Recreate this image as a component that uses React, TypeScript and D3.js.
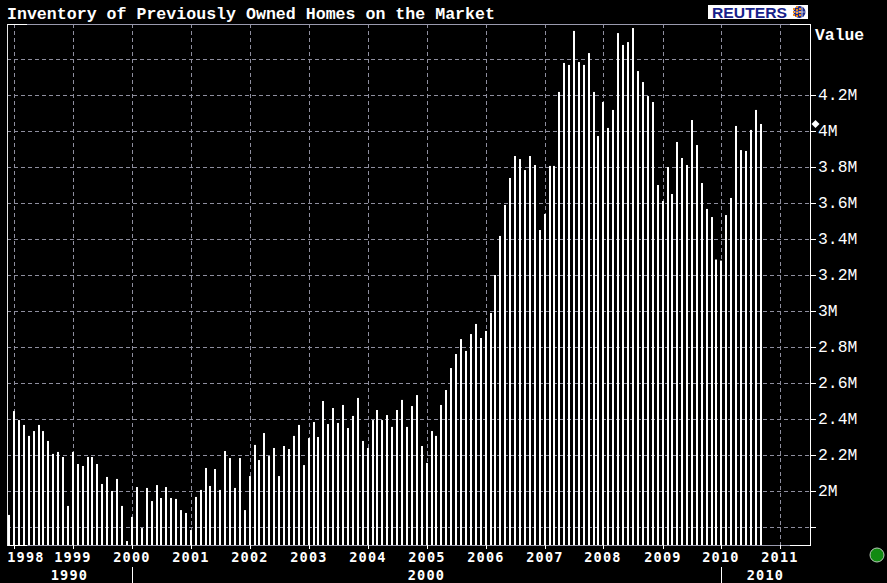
import React, { useEffect, useRef } from "react";
import * as d3 from "d3";

const title = "Inventory of Previously Owned Homes on the Market";

// Monthly inventory in millions of units, Dec 1997 .. Sep 2010
const dec1997 = [1.867];
const y1998 = [2.444, 2.394, 2.367, 2.306, 2.333, 2.367, 2.333, 2.278, 2.206, 2.217, 2.189, 1.917];
const y1999 = [2.217, 2.15, 2.139, 2.189, 2.189, 2.15, 2.039, 2.078, 2.0, 2.067, 1.917, 1.722];
const y2000 = [1.856, 2.022, 1.794, 2.017, 1.944, 2.033, 1.961, 2.022, 1.961, 1.956, 1.894, 1.878];
const y2001 = [1.783, 1.967, 2.006, 2.128, 2.028, 2.122, 2.006, 2.222, 2.183, 2.017, 2.183, 1.894];
const y2002 = [2.083, 2.256, 2.172, 2.322, 2.194, 2.239, 2.083, 2.25, 2.233, 2.306, 2.367, 2.144];
const y2003 = [2.294, 2.383, 2.3, 2.5, 2.372, 2.461, 2.378, 2.478, 2.35, 2.417, 2.517, 2.278];
const y2004 = [2.239, 2.394, 2.45, 2.394, 2.422, 2.356, 2.45, 2.506, 2.356, 2.472, 2.533, 2.25];
const y2005 = [2.156, 2.333, 2.306, 2.478, 2.561, 2.683, 2.761, 2.844, 2.778, 2.872, 2.928, 2.85];
const y2006 = [2.889, 2.989, 3.2, 3.417, 3.589, 3.739, 3.861, 3.844, 3.783, 3.861, 3.811, 3.45];
const y2007 = [3.539, 3.806, 3.806, 4.217, 4.378, 4.367, 4.556, 4.383, 4.367, 4.433, 4.217, 3.972];
const y2008 = [4.161, 4.017, 4.117, 4.544, 4.478, 4.494, 4.572, 4.333, 4.272, 4.194, 4.161, 3.7];
const y2009 = [3.611, 3.8, 3.65, 3.939, 3.85, 3.811, 4.061, 3.922, 3.711, 3.567, 3.522, 3.286];
const y2010 = [3.28, 3.533, 3.628, 4.028, 3.894, 3.889, 4.006, 4.117, 4.039];

const yearTicks = [1998, 1999, 2000, 2001, 2002, 2003, 2004, 2005, 2006, 2007, 2008, 2009, 2010, 2011];
const valueTicks = [1.8, 2.0, 2.2, 2.4, 2.6, 2.8, 3.0, 3.2, 3.4, 3.6, 3.8, 4.0, 4.2];
const gridValues = [1.8, 2.0, 2.2, 2.4, 2.6, 2.8, 3.0, 3.2, 3.4, 3.6, 3.8, 4.0, 4.2, 4.4];
const decadeLabels = ["1990", "2000", "2010"];
const decadeBreaks = [2000, 2010];

export default function App() {
  const svgRef = useRef(null);

  useEffect(() => {
    const svg = d3.select(svgRef.current);
    svg.selectAll("*").remove();

    const left = 7, right = 810, top = 24, bottom = 545;
    const grid = "#8e8e9e";

    // assemble monthly series
    const data = [];
    data.push({ date: new Date(Date.UTC(1997, 11, 1)), value: dec1997[0] });
    [y1998, y1999, y2000, y2001, y2002, y2003, y2004, y2005, y2006, y2007, y2008, y2009, y2010].forEach(
      (arr, i) => {
        arr.forEach((v, m) => data.push({ date: new Date(Date.UTC(1998 + i, m, 1)), value: v }));
      }
    );

    const x = d3
      .scaleUtc()
      .domain([new Date(Date.UTC(1998, 0, 1)), new Date(Date.UTC(2011, 0, 1))])
      .range([14.2, 780.3]);
    const y = d3.scaleLinear().domain([1.8, 4.2]).range([527, 95]);
    const yr = (yy) => Math.round(x(new Date(Date.UTC(yy, 0, 1))));

    svg.append("rect").attr("width", 887).attr("height", 583).attr("fill", "#000");

    // title
    svg
      .append("text")
      .attr("x", 7)
      .attr("y", 18.5)
      .text(title)
      .style("font-family", "'Liberation Mono', monospace")
      .style("font-size", "16.6px")
      .style("font-weight", "bold")
      .style("fill", "#fff");

    // Reuters logo
    const logo = svg.append("g");
    logo.append("rect").attr("x", 708).attr("y", 5).attr("width", 100).attr("height", 14).attr("fill", "#fff");
    logo
      .append("text")
      .attr("x", 712)
      .attr("y", 17.5)
      .attr("textLength", 75)
      .attr("lengthAdjust", "spacingAndGlyphs")
      .text("REUTERS")
      .style("font-family", "'Liberation Sans', Arial, sans-serif")
      .style("font-size", "14px")
      .style("font-weight", "bold")
      .style("fill", "#16218a");
    logo.append("circle").attr("cx", 799.5).attr("cy", 12).attr("r", 6).attr("fill", "#1c2a8c");
    [[793, 8], [793, 11], [793, 14], [796, 6], [796, 9], [796, 12], [796, 15], [799, 8], [799, 11], [799, 14]].forEach(
      ([cx, cy]) => {
        logo.append("rect").attr("x", cx).attr("y", cy).attr("width", 2).attr("height", 2).attr("fill", "#f08a1c");
      }
    );
    logo.append("line").attr("x1", 802).attr("x2", 802).attr("y1", 6).attr("y2", 18).attr("stroke", "#fff").attr("stroke-width", 0.8);
    logo.append("line").attr("x1", 794).attr("x2", 805.5).attr("y1", 12).attr("y2", 12).attr("stroke", "#fff").attr("stroke-width", 0.6);

    // horizontal grid
    svg
      .append("g")
      .selectAll("line")
      .data(gridValues)
      .enter()
      .append("line")
      .attr("x1", left)
      .attr("x2", right)
      .attr("y1", (d) => Math.round(y(d)) + 0.5)
      .attr("y2", (d) => Math.round(y(d)) + 0.5)
      .attr("stroke", grid)
      .attr("stroke-dasharray", "4,3");

    // vertical grid
    svg
      .append("g")
      .selectAll("line")
      .data(yearTicks)
      .enter()
      .append("line")
      .attr("x1", (d) => yr(d) + 0.5)
      .attr("x2", (d) => yr(d) + 0.5)
      .attr("y1", top)
      .attr("y2", bottom)
      .attr("stroke", grid)
      .attr("stroke-dasharray", "4,3");

    // bars
    svg
      .append("g")
      .selectAll("rect")
      .data(data)
      .enter()
      .append("rect")
      .attr("x", (d) => Math.round(x(d.date)) - 1)
      .attr("width", 2)
      .attr("y", (d) => y(d.value))
      .attr("height", (d) => bottom - y(d.value))
      .attr("fill", "#fff");

    // frame
    const frame = svg.append("g").attr("shape-rendering", "crispEdges");
    frame.append("line").attr("x1", left).attr("x2", right).attr("y1", top + 0.5).attr("y2", top + 0.5).attr("stroke", "#9a9aae");
    frame.append("line").attr("x1", left).attr("x2", right).attr("y1", bottom + 0.5).attr("y2", bottom + 0.5).attr("stroke", "#9a9aae");
    [[left, left + 20], [right - 20, right]].forEach(([a, b]) => {
      frame.append("line").attr("x1", a).attr("x2", b).attr("y1", top + 0.5).attr("y2", top + 0.5).attr("stroke", "#fff");
      frame.append("line").attr("x1", a).attr("x2", b).attr("y1", bottom + 0.5).attr("y2", bottom + 0.5).attr("stroke", "#fff");
    });
    frame.append("line").attr("x1", left + 0.5).attr("x2", left + 0.5).attr("y1", top).attr("y2", bottom + 1).attr("stroke", "#e8e8e8");
    frame.append("line").attr("x1", right + 0.5).attr("x2", right + 0.5).attr("y1", top).attr("y2", bottom + 1).attr("stroke", "#fff");

    // right value axis
    const yAxis = svg.append("g");
    yAxis
      .selectAll("line")
      .data(valueTicks)
      .enter()
      .append("line")
      .attr("x1", right)
      .attr("x2", right + 6)
      .attr("y1", (d) => Math.round(y(d)) + 0.5)
      .attr("y2", (d) => Math.round(y(d)) + 0.5)
      .attr("stroke", "#fff");
    yAxis
      .selectAll("text")
      .data(valueTicks.filter((d) => d >= 2))
      .enter()
      .append("text")
      .attr("x", 818)
      .attr("y", (d) => y(d) + 5)
      .text((d) => `${+d.toFixed(1)}M`)
      .style("font-family", "'Liberation Mono', monospace")
      .style("font-size", "16.4px")
      .style("fill", "#fff");
    svg
      .append("text")
      .attr("x", 815)
      .attr("y", 39.5)
      .text("Value")
      .style("font-family", "'Liberation Mono', monospace")
      .style("font-size", "16.4px")
      .style("font-weight", "bold")
      .style("fill", "#fff");

    // last value marker (square diamond)
    const last = data[data.length - 1];
    const ly = y(last.value);
    svg
      .append("path")
      .attr("d", `M815.5,${ly - 4}L819.5,${ly}L815.5,${ly + 4}L811.5,${ly}Z`)
      .attr("fill", "#fff");

    // bottom year axis
    const xAxis = svg.append("g");
    xAxis
      .selectAll("line")
      .data(yearTicks)
      .enter()
      .append("line")
      .attr("x1", (d) => yr(d) + 0.5)
      .attr("x2", (d) => yr(d) + 0.5)
      .attr("y1", bottom)
      .attr("y2", bottom + 4)
      .attr("stroke", "#fff");
    const labelStyle = (sel) =>
      sel
        .style("font-family", "'DejaVu Sans Mono', monospace")
        .style("font-size", "13.6px")
        .style("font-weight", "bold")
        .style("letter-spacing", "1.2px")
        .style("fill", "#fff");
    xAxis
      .selectAll("text")
      .data(yearTicks)
      .enter()
      .append("text")
      .attr("x", (d) => Math.max(yr(d), left + 19))
      .attr("y", 562)
      .attr("text-anchor", "middle")
      .text((d) => d)
      .call(labelStyle);

    // decade row
    const bounds = [left, ...decadeBreaks.map(yr), right];
    decadeLabels.forEach((lab, i) => {
      svg
        .append("text")
        .attr("x", (bounds[i] + bounds[i + 1]) / 2)
        .attr("y", 580)
        .attr("text-anchor", "middle")
        .text(lab)
        .call(labelStyle);
    });
    decadeBreaks.forEach((d) => {
      svg
        .append("line")
        .attr("x1", yr(d) + 0.5)
        .attr("x2", yr(d) + 0.5)
        .attr("y1", 567)
        .attr("y2", 583)
        .attr("stroke", "#fff");
    });

    // status light
    svg
      .append("circle")
      .attr("cx", 877)
      .attr("cy", 555)
      .attr("r", 7)
      .attr("fill", "#128a12")
      .attr("stroke", "#b8c8b8")
      .attr("stroke-width", 1);
  }, []);

  return (
    <div style={{ width: 887, height: 583, background: "#000" }}>
      <style>{"body{margin:0;background:#000}"}</style>
      <svg ref={svgRef} width={887} height={583} style={{ display: "block" }} />
    </div>
  );
}
